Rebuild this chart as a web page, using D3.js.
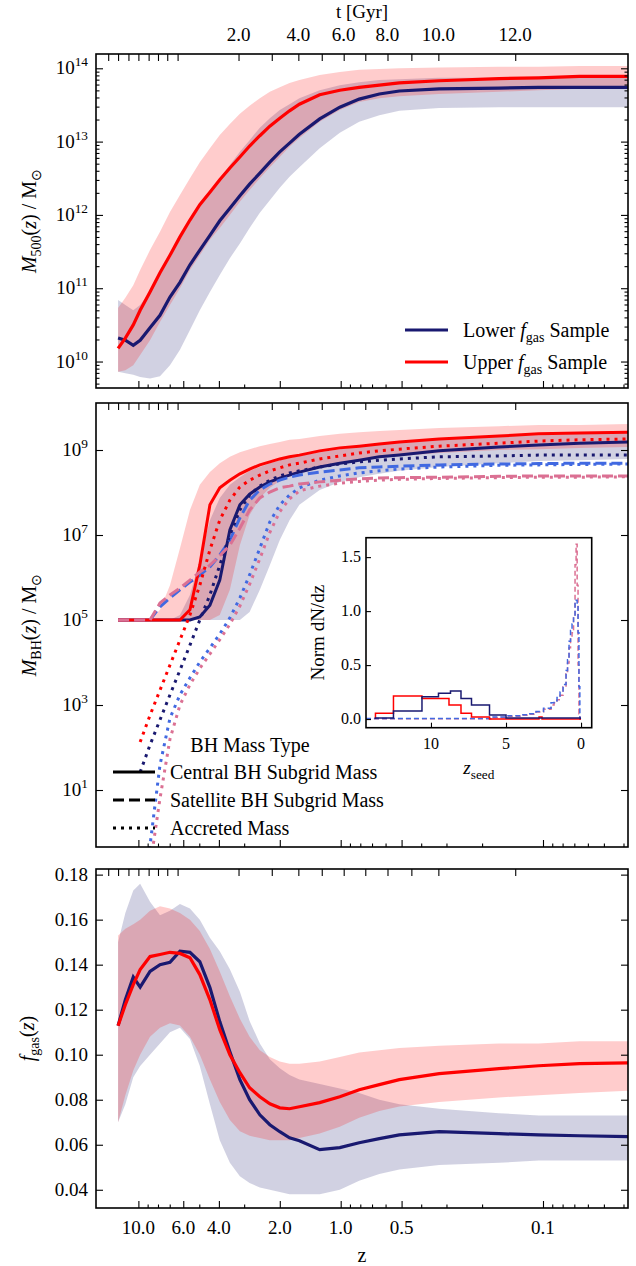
<!DOCTYPE html>
<html>
<head>
<meta charset="utf-8">
<script src="https://cdn.jsdelivr.net/npm/d3@7"></script>
<style>
  body { margin: 0; background: #fff; }
  text { font-family: "Liberation Serif", "Times New Roman", serif; fill: #000; }
</style>
</head>
<body>
<svg id="chart" width="636" height="1266"></svg>
<script>
// MARK: data

// redshift grid shared by every curve
const zGrid = [12.6, 11.6, 10.6, 9.8, 8.76, 7.82, 6.98, 6.23, 5.56, 4.97, 4.43, 3.96, 3.53, 3.15, 2.82,
  2.51, 2.24, 2.0, 1.79, 1.6, 1.27, 1.01, 0.81, 0.644, 0.513, 0.326, 0.165, 0.105, 0.066, 0.038]

// log10 M500 / Msun : medians and 16-84 bands
const m500LowMed = [10.32, 10.29, 10.22, 10.29, 10.46, 10.63, 10.88, 11.08, 11.32, 11.52, 11.72, 11.92, 12.09, 12.26, 12.42,
  12.57, 12.72, 12.86, 12.98, 13.10, 13.31, 13.47, 13.58, 13.65, 13.69, 13.72, 13.73, 13.74, 13.74, 13.74]
const m500UpMed  = [10.18, 10.32, 10.50, 10.70, 10.95, 11.21, 11.45, 11.70, 11.93, 12.14, 12.31, 12.48, 12.64, 12.79, 12.94,
  13.08, 13.21, 13.32, 13.42, 13.51, 13.64, 13.70, 13.74, 13.77, 13.80, 13.83, 13.86, 13.87, 13.89, 13.89]
const m500LowLo  = [9.86, 9.84, 9.82, 9.79, 9.77, 9.80, 9.95, 10.16, 10.43, 10.70, 10.95, 11.18, 11.41, 11.61, 11.82,
  12.03, 12.20, 12.37, 12.52, 12.65, 12.91, 13.12, 13.27, 13.36, 13.42, 13.46, 13.47, 13.47, 13.47, 13.47]
const m500LowHi  = [10.84, 10.77, 10.70, 10.77, 10.95, 11.18, 11.41, 11.66, 11.90, 12.11, 12.31, 12.50, 12.68, 12.86, 13.02,
  13.19, 13.32, 13.43, 13.51, 13.59, 13.70, 13.77, 13.81, 13.84, 13.85, 13.87, 13.87, 13.87, 13.87, 13.87]
const m500UpLo   = [9.86, 9.88, 9.95, 10.09, 10.29, 10.54, 10.77, 11.00, 11.25, 11.45, 11.66, 11.82, 12.00, 12.18, 12.34,
  12.50, 12.65, 12.79, 12.93, 13.05, 13.27, 13.43, 13.54, 13.59, 13.62, 13.65, 13.68, 13.70, 13.72, 13.72]
const m500UpHi   = [10.73, 10.87, 11.04, 11.25, 11.52, 11.77, 12.04, 12.27, 12.50, 12.72, 12.91, 13.09, 13.24, 13.38, 13.49,
  13.59, 13.68, 13.74, 13.80, 13.84, 13.91, 13.95, 13.98, 13.99, 14.00, 14.01, 14.02, 14.02, 14.03, 14.03]

// log10 M_BH / Msun
const bhLowCen    = [5, 5, 5, 5, 5, 5, 5, 5, 5, 5.07, 5.35, 5.94, 7.12, 7.71, 7.96,
  8.13, 8.25, 8.34, 8.41, 8.48, 8.60, 8.69, 8.76, 8.84, 8.88, 8.98, 9.07, 9.12, 9.16, 9.19]
const bhUpCen     = [5, 5, 5, 5, 5, 5, 5, 5, 5.24, 6.29, 7.71, 8.11, 8.29, 8.44, 8.55,
  8.65, 8.72, 8.79, 8.84, 8.88, 8.98, 9.05, 9.09, 9.14, 9.19, 9.26, 9.33, 9.38, 9.40, 9.42]
const bhLowSat    = [5, 5, 5, 5, 5, 5.31, 5.52, 5.71, 5.89, 6.06, 6.25, 6.53, 6.88, 7.40, 7.82,
  8.06, 8.20, 8.29, 8.36, 8.41, 8.48, 8.53, 8.58, 8.60, 8.62, 8.65, 8.67, 8.68, 8.69, 8.69]
const bhUpSat     = [5, 5, 5, 5, 5, 5.40, 5.59, 5.75, 5.94, 6.13, 6.29, 6.51, 6.76, 7.16, 7.59,
  7.87, 8.01, 8.11, 8.15, 8.20, 8.25, 8.29, 8.32, 8.34, 8.35, 8.36, 8.38, 8.39, 8.39, 8.39]
const bhLowAcc    = [null, null, null, 1.42, 2.06, 2.65, 3.24, 3.82, 4.41, 5.0, 5.59, 6.29, 7.0, 7.59, 7.94,
  8.15, 8.29, 8.39, 8.46, 8.51, 8.60, 8.67, 8.72, 8.76, 8.79, 8.84, 8.86, 8.88, 8.88, 8.88]
const bhUpAcc     = [null, null, null, 2.13, 2.76, 3.35, 3.94, 4.53, 5.12, 5.82, 6.65, 7.35, 7.82, 8.13, 8.29,
  8.41, 8.51, 8.58, 8.65, 8.69, 8.79, 8.86, 8.93, 8.98, 9.02, 9.09, 9.16, 9.21, 9.24, 9.26]
const bhLowSatAcc = [null, null, null, -1.5, -0.3, 1.59, 2.69, 3.24, 3.64, 4.01, 4.34, 4.67, 5.05, 5.52, 6.06,
  6.69, 7.31, 7.71, 7.94, 8.11, 8.29, 8.39, 8.46, 8.51, 8.55, 8.60, 8.64, 8.65, 8.66, 8.67]
const bhUpSatAcc  = [null, null, null, -2.5, -0.8, 0.8, 2.2, 3.0, 3.48, 3.86, 4.2, 4.54, 4.9, 5.33, 5.84,
  6.44, 7.06, 7.55, 7.85, 8.04, 8.15, 8.22, 8.26, 8.29, 8.31, 8.33, 8.35, 8.36, 8.36, 8.37]
const bhLowCenLo  = [5, 5, 5, 5, 5, 5, 5, 5, 5, 5, 5, 5, 5, 5, 5.19,
  5.71, 6.29, 6.88, 7.35, 7.71, 8.06, 8.25, 8.36, 8.44, 8.51, 8.60, 8.69, 8.74, 8.76, 8.79]
const bhLowCenHi  = [5, 5, 5, 5, 5, 5, 5, 5.12, 5.59, 6.41, 7.35, 7.87, 8.18, 8.36, 8.51,
  8.60, 8.69, 8.76, 8.81, 8.86, 8.95, 9.02, 9.09, 9.14, 9.19, 9.26, 9.33, 9.35, 9.38, 9.40]
const bhUpCenLo   = [5, 5, 5, 5, 5, 5, 5, 5, 5, 5, 5, 5.12, 5.71, 6.76, 7.47,
  7.87, 8.11, 8.27, 8.39, 8.48, 8.60, 8.69, 8.76, 8.81, 8.86, 8.93, 9.0, 9.02, 9.05, 9.07]
const bhUpCenHi   = [5, 5, 5, 5, 5, 5.24, 5.82, 6.69, 7.59, 8.18, 8.48, 8.69, 8.84, 8.95, 9.02,
  9.09, 9.14, 9.19, 9.24, 9.26, 9.33, 9.38, 9.42, 9.45, 9.47, 9.52, 9.56, 9.59, 9.59, 9.61]

// gas fraction
const fgLowMed = [0.1129, 0.1244, 0.1345, 0.130, 0.137, 0.140, 0.141, 0.146, 0.1455, 0.1413, 0.1298, 0.1147, 0.1013, 0.0889, 0.080,
  0.0733, 0.0689, 0.0658, 0.0631, 0.0618, 0.0578, 0.0587, 0.0609, 0.0627, 0.0644, 0.0658, 0.0649, 0.0644, 0.064, 0.0636]
const fgUpMed  = [0.1129, 0.1222, 0.1311, 0.1378, 0.1436, 0.1445, 0.1455, 0.145, 0.1431, 0.1356, 0.1244, 0.1111, 0.100, 0.092, 0.0853,
  0.0813, 0.0782, 0.0764, 0.076, 0.0769, 0.0787, 0.0813, 0.0844, 0.0867, 0.0889, 0.0916, 0.0938, 0.0951, 0.096, 0.0964]
const fgLowLo  = [0.070, 0.078, 0.090, 0.095, 0.100, 0.105, 0.110, 0.112, 0.107, 0.095, 0.078, 0.062, 0.052, 0.046, 0.043,
  0.041, 0.040, 0.039, 0.038, 0.038, 0.038, 0.040, 0.044, 0.047, 0.049, 0.051, 0.052, 0.053, 0.053, 0.053]
const fgLowHi  = [0.150, 0.163, 0.173, 0.176, 0.168, 0.162, 0.164, 0.167, 0.165, 0.160, 0.152, 0.146, 0.138, 0.128, 0.115,
  0.105, 0.098, 0.094, 0.091, 0.089, 0.087, 0.085, 0.083, 0.080, 0.078, 0.076, 0.074, 0.073, 0.073, 0.073]
const fgUpLo   = [0.070, 0.082, 0.093, 0.100, 0.108, 0.112, 0.114, 0.113, 0.108, 0.100, 0.089, 0.079, 0.071, 0.066, 0.064,
  0.063, 0.062, 0.062, 0.062, 0.063, 0.065, 0.068, 0.072, 0.075, 0.077, 0.079, 0.081, 0.082, 0.083, 0.084]
const fgUpHi   = [0.153, 0.156, 0.158, 0.160, 0.164, 0.166, 0.165, 0.163, 0.160, 0.155, 0.147, 0.137, 0.126, 0.116, 0.108,
  0.102, 0.099, 0.097, 0.096, 0.096, 0.097, 0.099, 0.101, 0.102, 0.103, 0.104, 0.105, 0.105, 0.106, 0.106]

// inset: seeding redshift histograms (bin edges, heights)
const seedUpEdges  = [13.7, 12.5, 10.6, 8.8, 8.0, 7.3, 6.1, 2.8, 2.6, 0]
const seedUpVals   = [0.053, 0.213, 0.19, 0.13, 0.053, 0.02, 0, 0.02, 0]
const seedLowEdges = [13.7, 12.5, 10.6, 9.5, 8.7, 8.0, 7.3, 6.1, 5.0, 0.05]
const seedLowVals  = [0.01, 0.075, 0.207, 0.238, 0.26, 0.19, 0.13, 0.037, 0.01]
const satEdges     = [14.3, 6.0, 5.0, 4.0, 3.5, 3.0, 2.5, 2.0, 1.8, 1.6, 1.4, 1.2, 1.0, 0.9, 0.8, 0.7, 0.6, 0.5,
  0.4, 0.33, 0.26, 0.2, 0.14, 0.08, 0]
const satLowVals   = [0.005, 0.02, 0.03, 0.04, 0.05, 0.07, 0.1, 0.15, 0.17, 0.2, 0.25, 0.32, 0.45, 0.55, 0.72, 0.82,
  0.88, 0.95, 1.08, 1.1, 1.05, 0.8, 0.3, 0]
const satUpVals    = [0.004, 0.015, 0.025, 0.035, 0.045, 0.065, 0.09, 0.13, 0.15, 0.18, 0.22, 0.3, 0.42, 0.52, 0.66, 0.76,
  0.8, 0.95, 1.43, 1.62, 1.24, 0.5, 0.05, 0]

// ticks
const zMajor      = [10, 6, 4, 2, 1, 0.5, 0.1]
const zMajorLabel = ['10.0', '6.0', '4.0', '2.0', '1.0', '0.5', '0.1']
const tMajor      = [2, 3, 4, 5, 6, 7, 8, 9, 10, 12]
const tLabelled   = [2, 4, 6, 8, 10, 12]
const topMinorZ   = [14.1, 12.6, 11.2, 10.0, 8.9, 8.0, 7.2, 6.4]
const m500Ticks   = [1e10, 1e11, 1e12, 1e13, 1e14]
const bhTicks     = [1e1, 1e3, 1e5, 1e7, 1e9]
const fgTicks     = [0.04, 0.06, 0.08, 0.10, 0.12, 0.14, 0.16, 0.18]

// MARK: constants

const NAVY = '#191970'
const RED  = '#ff0000'
const BLUE = '#4169e1'
const PINK = '#db7093'
const X0 = 96, X1 = 628
const LW = 3.2
const DOT  = '3,5'
const DASH = '11,5'

// flat LCDM (Planck-like) for the cosmic time axis
const H0 = 67.7, OM = 0.31, OL = 0.69
const T_H = 2 / (3 * Math.sqrt(OL)) * 977.8 / H0
const zAtTime = (t) => Math.pow(Math.sinh(t / T_H) / Math.sqrt(OL / OM), -2 / 3) - 1

const svg = d3.select('#chart')

const x = d3.scaleLog().domain([16.2, 0.038]).range([X0, X1])

const panels = [
  { top: 54,  bottom: 388, y: d3.scaleLog().domain([10 ** 9.639, 10 ** 14.195]).range([388, 54]) },
  { top: 403, bottom: 847, y: d3.scaleLog().domain([10 ** -0.341, 10 ** 10.106]).range([847, 403]) },
  { top: 869, bottom: 1208, y: d3.scaleLinear().domain([0.0319, 0.1825]).range([1208, 869]) },
]

// rich text with italic / sub / superscript parts (poor man's mathtext)
function rich(parent, parts, size) {
  const text = parent.append('text').attr('font-size', size)
  let shift = 0
  parts.forEach((p) => {
    const off = p.sub ? size * 0.25 : p.sup ? -size * 0.42 : 0
    text.append('tspan')
      .attr('dy', off - shift)
      .attr('font-size', p.sub || p.sup ? size * 0.7 : size)
      .attr('font-style', p.it ? 'italic' : null)
      .text(p.t)
    shift = off
  })
  return text
}

function logMinor(domain) {
  const lo = Math.min(...domain), hi = Math.max(...domain)
  const out = []
  for (let e = Math.floor(Math.log10(lo)); e <= Math.ceil(Math.log10(hi)); e++) {
    for (let m = 2; m <= 9; m++) {
      const v = m * 10 ** e
      if (v > lo && v < hi) out.push(v)
    }
  }
  return out
}

function tickGroup(g, axis, tx, ty) {
  g.append('g')
    .attr('transform', `translate(${tx},${ty})`)
    .call(axis.tickFormat(''))
    .call((a) => a.select('.domain').remove())
    .selectAll('line').attr('stroke-width', 1.1)
}

// MARK: panels

panels.forEach((p, i) => {
  const g = svg.append('g').attr('id', 'panel' + i)
  p.g = g
  svg.append('clipPath').attr('id', 'clip' + i)
    .append('rect').attr('x', X0).attr('y', p.top).attr('width', X1 - X0).attr('height', p.bottom - p.top)
  p.plot = g.append('g').attr('clip-path', `url(#clip${i})`)
})

function band(p, lo, hi, color, f) {
  const rows = zGrid.map((z, i) => ({ z, lo: lo[i], hi: hi[i] }))
  p.plot.append('path')
    .datum(rows)
    .attr('fill', color)
    .attr('fill-opacity', 0.2)
    .attr('d', d3.area()
      .x((d) => x(d.z))
      .y0((d) => p.y(f(d.lo)))
      .y1((d) => p.y(f(d.hi))))
}

function curve(p, vals, color, dash, f, width) {
  const rows = zGrid.map((z, i) => ({ z, v: vals[i] }))
  p.plot.append('path')
    .datum(rows)
    .attr('fill', 'none')
    .attr('stroke', color)
    .attr('stroke-width', width || LW)
    .attr('stroke-dasharray', dash)
    .attr('d', d3.line()
      .defined((d) => d.v !== null)
      .x((d) => x(d.z))
      .y((d) => p.y(f(d.v))))
}

const pow10 = (v) => 10 ** v
const ident = (v) => v

// panel 1: halo mass
const [P1, P2, P3] = panels
band(P1, m500LowLo, m500LowHi, NAVY, pow10)
band(P1, m500UpLo, m500UpHi, RED, pow10)
curve(P1, m500LowMed, NAVY, null, pow10)
curve(P1, m500UpMed, RED, null, pow10)

// panel 2: black hole masses
band(P2, bhLowCenLo, bhLowCenHi, NAVY, pow10)
band(P2, bhUpCenLo, bhUpCenHi, RED, pow10)
curve(P2, bhLowCen, NAVY, null, pow10, 3)
curve(P2, bhLowSat, BLUE, DASH, pow10, 3)
curve(P2, bhLowAcc, NAVY, DOT, pow10, 3)
curve(P2, bhLowSatAcc, BLUE, DOT, pow10, 3)
curve(P2, bhUpCen, RED, null, pow10, 3)
curve(P2, bhUpSat, PINK, DASH, pow10, 3)
curve(P2, bhUpAcc, RED, DOT, pow10, 3)
curve(P2, bhUpSatAcc, PINK, DOT, pow10, 3)

// panel 3: gas fraction
band(P3, fgLowLo, fgLowHi, NAVY, ident)
band(P3, fgUpLo, fgUpHi, RED, ident)
curve(P3, fgLowMed, NAVY, null, ident)
curve(P3, fgUpMed, RED, null, ident)

// MARK: frames and ticks

const zMinor = logMinor(x.domain()).filter((v) => !zMajor.some((m) => Math.abs(m - v) < 1e-9))
const topTickZ = tMajor.map(zAtTime).concat(topMinorZ)

panels.forEach((p) => {
  const g = p.g
  tickGroup(g, d3.axisBottom(x).tickValues(zMajor).tickSize(-7), 0, p.bottom)
  tickGroup(g, d3.axisBottom(x).tickValues(zMinor).tickSize(-3.5), 0, p.bottom)
  tickGroup(g, d3.axisTop(x).tickValues(topTickZ).tickSize(-7), 0, p.top)
  g.append('rect')
    .attr('x', X0).attr('y', p.top)
    .attr('width', X1 - X0).attr('height', p.bottom - p.top)
    .attr('fill', 'none').attr('stroke', '#000').attr('stroke-width', 1.6)
})

// y ticks
function yTicks(p, major, minor) {
  tickGroup(p.g, d3.axisLeft(p.y).tickValues(major).tickSize(-7), X0, 0)
  tickGroup(p.g, d3.axisRight(p.y).tickValues(major).tickSize(-7), X1, 0)
  if (minor) {
    tickGroup(p.g, d3.axisLeft(p.y).tickValues(minor).tickSize(-3.5), X0, 0)
    tickGroup(p.g, d3.axisRight(p.y).tickValues(minor).tickSize(-3.5), X1, 0)
  }
}
yTicks(P1, m500Ticks, logMinor(P1.y.domain()))
yTicks(P2, bhTicks, null)
yTicks(P3, fgTicks, null)

const TICK_FS = 19

function powLabels(p, ticks) {
  ticks.forEach((v) => {
    rich(p.g, [{ t: '10' }, { t: String(Math.round(Math.log10(v))), sup: true }], TICK_FS)
      .attr('x', X0 - 8).attr('y', p.y(v) + 6)
      .attr('text-anchor', 'end')
  })
}
powLabels(P1, m500Ticks)
powLabels(P2, bhTicks)

P3.g.selectAll('text.ylab')
  .data(fgTicks).enter().append('text')
  .attr('class', 'ylab')
  .attr('x', X0 - 8).attr('y', (d) => P3.y(d) + 6)
  .attr('text-anchor', 'end').attr('font-size', TICK_FS)
  .text((d) => d.toFixed(2))

// bottom z labels
svg.selectAll('text.zlab')
  .data(zMajor).enter().append('text')
  .attr('class', 'zlab')
  .attr('x', (d) => x(d)).attr('y', 1234)
  .attr('text-anchor', 'middle').attr('font-size', TICK_FS)
  .text((d, i) => zMajorLabel[i])
svg.append('text').attr('x', (X0 + X1) / 2).attr('y', 1262)
  .attr('text-anchor', 'middle').attr('font-size', 20).text('z')

// top time labels
svg.selectAll('text.tlab')
  .data(tLabelled).enter().append('text')
  .attr('class', 'tlab')
  .attr('x', (d) => x(zAtTime(d))).attr('y', 41)
  .attr('text-anchor', 'middle').attr('font-size', TICK_FS)
  .text((d) => d.toFixed(1))
svg.append('text').attr('x', (X0 + X1) / 2).attr('y', 18)
  .attr('text-anchor', 'middle').attr('font-size', 19).text('t [Gyr]')

// y axis titles
function yTitle(parts, cx, cy, size) {
  const g = svg.append('g').attr('transform', `translate(${cx},${cy}) rotate(-90)`)
  rich(g, parts, size).attr('text-anchor', 'middle')
}
yTitle([{ t: 'M', it: true }, { t: '500', sub: true }, { t: '(' }, { t: 'z', it: true }, { t: ') / M' }, { t: '⊙', sub: true }],
  36, (P1.top + P1.bottom) / 2, 20)
yTitle([{ t: 'M', it: true }, { t: 'BH', sub: true }, { t: '(' }, { t: 'z', it: true }, { t: ') / M' }, { t: '⊙', sub: true }],
  36, (P2.top + P2.bottom) / 2, 20)
yTitle([{ t: 'f', it: true }, { t: 'gas', sub: true }, { t: '(' }, { t: 'z', it: true }, { t: ')' }],
  34, (P3.top + P3.bottom) / 2, 20)

// MARK: legends

const legend1 = [
  { color: NAVY, parts: [{ t: 'Lower ' }, { t: 'f', it: true }, { t: 'gas', sub: true }, { t: ' Sample' }] },
  { color: RED,  parts: [{ t: 'Upper ' }, { t: 'f', it: true }, { t: 'gas', sub: true }, { t: ' Sample' }] },
]
legend1.forEach((d, i) => {
  const yy = 330 + i * 32
  svg.append('line').attr('x1', 405).attr('x2', 448).attr('y1', yy).attr('y2', yy)
    .attr('stroke', d.color).attr('stroke-width', LW)
  rich(svg, d.parts, 20).attr('x', 463).attr('y', yy + 7)
})

const legend2 = [
  { dash: null, label: 'Central BH Subgrid Mass' },
  { dash: DASH, label: 'Satellite BH Subgrid Mass' },
  { dash: DOT,  label: 'Accreted Mass' },
]
svg.append('text').attr('x', 250).attr('y', 752).attr('text-anchor', 'middle')
  .attr('font-size', 20).text('BH Mass Type')
legend2.forEach((d, i) => {
  const yy = 772 + i * 28
  svg.append('line').attr('x1', 113).attr('x2', 155).attr('y1', yy).attr('y2', yy)
    .attr('stroke', '#000').attr('stroke-width', 3).attr('stroke-dasharray', d.dash)
  svg.append('text').attr('x', 170).attr('y', yy + 7).attr('font-size', 20).text(d.label)
})

// MARK: inset

const IX0 = 366, IX1 = 591.7, IY0 = 537.7, IY1 = 727.7
const ix = d3.scaleLinear().domain([14.33, -0.71]).range([IX0, IX1])
const iy = d3.scaleLinear().domain([-0.08, 1.68]).range([IY1, IY0])
const inset = svg.append('g').attr('id', 'inset')
inset.append('rect').attr('x', IX0).attr('y', IY0).attr('width', IX1 - IX0).attr('height', IY1 - IY0)
  .attr('fill', '#fff')
svg.append('clipPath').attr('id', 'clipInset')
  .append('rect').attr('x', IX0).attr('y', IY0).attr('width', IX1 - IX0).attr('height', IY1 - IY0)
const iplot = inset.append('g').attr('clip-path', 'url(#clipInset)')

function stepHist(edges, vals, color, dash) {
  const pts = [[edges[0], 0]]
  vals.forEach((v, i) => { pts.push([edges[i], v], [edges[i + 1], v]) })
  pts.push([edges[edges.length - 1], 0])
  iplot.append('path')
    .attr('fill', 'none').attr('stroke', color).attr('stroke-width', 1.5)
    .attr('stroke-dasharray', dash)
    .attr('d', d3.line().x((d) => ix(d[0])).y((d) => iy(d[1]))(pts))
}
stepHist(satEdges, satUpVals, PINK, '5,3')
stepHist(satEdges, satLowVals, BLUE, '5,3')
stepHist(seedUpEdges, seedUpVals, RED, null)
stepHist(seedLowEdges, seedLowVals, NAVY, null)

tickGroup(inset, d3.axisLeft(iy).tickValues([0, 0.5, 1.0, 1.5]).tickSize(-5), IX0, 0)
tickGroup(inset, d3.axisBottom(ix).tickValues([10, 5, 0]).tickSize(-5), 0, IY1)
inset.append('rect').attr('x', IX0).attr('y', IY0).attr('width', IX1 - IX0).attr('height', IY1 - IY0)
  .attr('fill', 'none').attr('stroke', '#000').attr('stroke-width', 1.6)

inset.selectAll('text.iy')
  .data([0, 0.5, 1.0, 1.5]).enter().append('text')
  .attr('x', IX0 - 5).attr('y', (d) => iy(d) + 5)
  .attr('text-anchor', 'end').attr('font-size', 16).text((d) => d.toFixed(1))
inset.selectAll('text.ix')
  .data([10, 5, 0]).enter().append('text')
  .attr('x', (d) => ix(d)).attr('y', 749)
  .attr('text-anchor', 'middle').attr('font-size', 16).text((d) => d)
rich(inset, [{ t: 'z', it: true }, { t: 'seed', sub: true }], 19)
  .attr('x', (IX0 + IX1) / 2).attr('y', 774).attr('text-anchor', 'middle')
inset.append('g').attr('transform', `translate(324,${(IY0 + IY1) / 2}) rotate(-90)`)
  .append('text').attr('text-anchor', 'middle').attr('font-size', 19).text('Norm dN/dz')
</script>
</body>
</html>
